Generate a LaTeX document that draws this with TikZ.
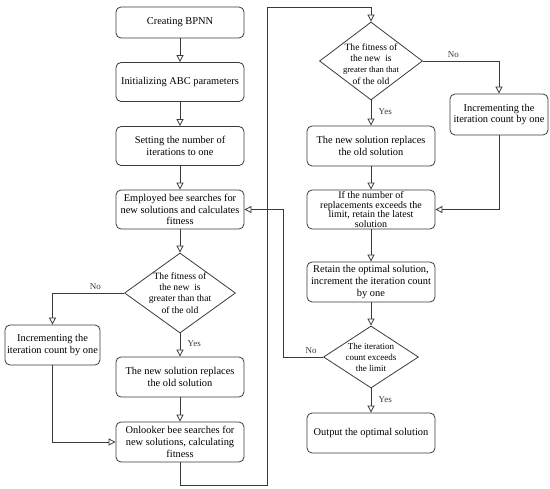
\documentclass[tikz,border=0pt]{standalone}
\usepackage{fontspec}
\setmainfont{Liberation Serif}
\usepackage{xcolor}
\usetikzlibrary{positioning, arrows.meta, shapes.geometric}
\definecolor{LineGray}{HTML}{3A3A3A}

\begin{document}
\begin{tikzpicture}[x=1pt, y=-1pt,
            box/.style={draw=LineGray, line width=0.8pt, rounded corners=5pt, align=center, font=\fontsize{10.4}{11.8}\selectfont, minimum width=128pt, minimum height=40pt, inner sep=1pt},
            dia/.style={draw=LineGray, line width=0.8pt, diamond, inner sep=0pt},
            arrow/.style={-{Triangle[open, length=7pt, width=7pt]}, line width=0.8pt, LineGray},
            lbl/.style={font=\fontsize{9}{10}\selectfont}
        ]
            \useasboundingbox (0,0) rectangle (550,489);

            % Left column
            \node[box, minimum height=31pt] at (180, 22.5) (create) {Creating BPNN};
            \node[box, minimum height=39pt] at (180, 82) (init) {Initializing ABC parameters};
            \node[box, minimum height=39pt] at (180, 146) (iter) {Setting the number of \\ iterations to one};
            \node[box, minimum height=39pt] at (180, 209.5) (employ) {Employed bee searches for \\ new solutions and calculates \\ fitness};

            \node[dia, minimum width=111pt, minimum height=80pt, label={[align=center, font=\fontsize{9.6}{11.2}\selectfont]center:The fitness of \\ the new\ \ is \\ greater than that \\ of the old}] at (180, 293) (dleft) {};

            \node[box, minimum width=95pt] at (52.5, 345) (incleft) {Incrementing the \\ iteration count by one};
            \node[box] at (180, 377) (replleft) {The new solution replaces \\ the old solution};
            \node[box] at (180, 442) (onlook) {Onlooker bee searches for \\ new solutions, calculating \\ fitness};

            % Right column
            \node[dia, minimum width=103pt, minimum height=78pt, label={[align=center, font=\fontsize{9.6}{11.2}\selectfont, yshift=-3pt]center:The fitness of \\ the new\ \ is \\ {\fontsize{8.6}{11.2}\selectfont greater than that} \\ of the old}] at (371, 61) (dright) {};

            \node[box, minimum width=98pt, minimum height=41pt] at (499, 114.5) (incright) {Incrementing the \\ iteration count by one};
            \node[box] at (371, 146) (replright) {The new solution replaces \\ the old solution};
            \node[box, minimum height=39pt, font=\fontsize{10}{9.6}\selectfont] at (371, 209.5) (ifrepl) {If the number of \\ replacements exceeds the \\ limit, retain the latest \\ solution};
            \node[box] at (371, 282) (retain) {Retain the optimal solution, \\ increment the iteration count \\ by one};

            \node[dia, minimum width=95pt, minimum height=62pt, label={[align=center, font=\fontsize{9}{11}\selectfont]center:The iteration \\ count exceeds \\ the limit}] at (371, 357) (dend) {};

            \node[box] at (371, 433) (output) {Output the optimal solution};

            % Loop coordinates
            \coordinate (loopA) at (267, 485);
            \coordinate (loopB) at (267, 7);
            \coordinate (backX) at (283, 0);

            % Left column arrows
            \draw[arrow] (create) -- (init);
            \draw[arrow] (init) -- (iter);
            \draw[arrow] (iter) -- (employ);
            \draw[arrow] (employ) -- (dleft);
            \draw[arrow] (dleft) -- (replleft) node[lbl, pos=0.45, right=4pt] {Yes};
            \draw[arrow] (dleft.west) -| (incleft.north) node[lbl, pos=0.2, above] {No};
            \draw[arrow] (replleft) -- (onlook);
            \draw[arrow] (incleft.south) |- (onlook.west);

            % Crossing over
            \draw[arrow] (onlook.south) |- (loopA) -- (loopB) -| (dright.north);

            % Right column arrows
            \draw[arrow] (dright) -- (replright) node[lbl, pos=0.45, right=4pt] {Yes};
            \draw[arrow] (dright.east) -| (incright.north) node[lbl, pos=0.2, above] {No};
            \draw[arrow] (replright) -- (ifrepl);
            \draw[arrow] (incright.south) |- (ifrepl.east);
            \draw[arrow] (ifrepl) -- (retain);
            \draw[arrow] (retain) -- (dend);
            \draw[arrow] (dend) -- (output) node[lbl, pos=0.45, right=4pt] {Yes};
            \draw[arrow] (dend.west) -- (dend.west -| backX) node[lbl, pos=0.3, above] {No} |- (employ.east);

        \end{tikzpicture}
\end{document}
